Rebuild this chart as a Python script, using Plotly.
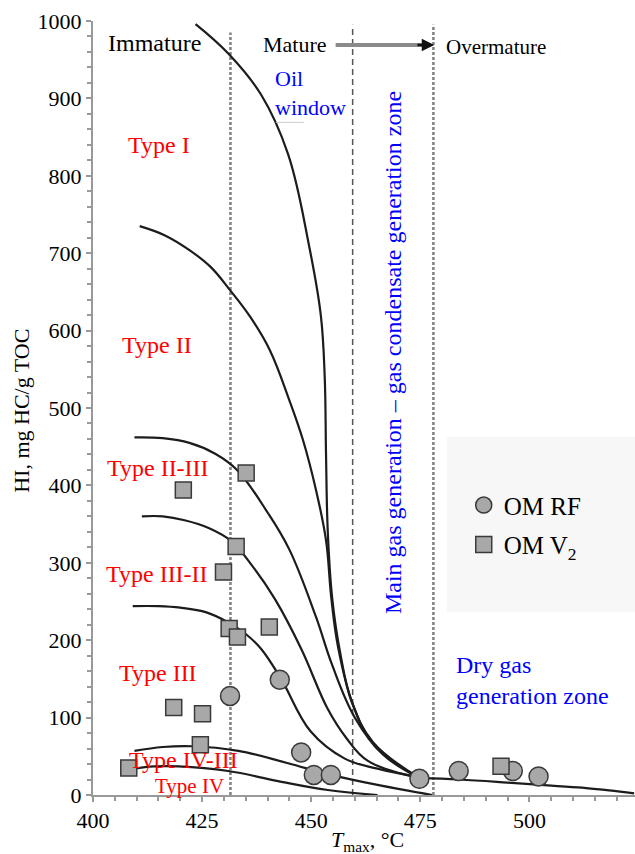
import plotly.graph_objects as go

# ---------------- data ----------------
type1_x = [423.5, 431.0, 438.5, 444.7, 449.5, 452.2, 453.1, 453.4, 453.8, 454.8, 456.6, 459.3, 464.2, 474.8]
type1_y = [996, 958, 905, 828, 710, 620, 540, 440, 340, 255, 185, 120, 68, 22]

type2_x = [410.7, 416.5, 422.1, 427.0, 431.3, 436.0, 440.5, 445.0, 448.1, 451.1, 453.4, 454.6, 456.2, 459.5, 464.5, 474.8]
type2_y = [735, 723, 704, 682, 653, 618, 575, 510, 459, 394, 329, 255, 190, 118, 64, 22]

type23_x = [409.5, 416.0, 422.1, 428.0, 433.0, 440.0, 445.0, 451.1, 454.8, 460.0, 466.5, 474.8]
type23_y = [462, 461, 455, 441, 420, 365, 317, 230, 168, 100, 52, 22]

type32_x = [411.2, 416.0, 421.0, 426.5, 431.7, 436.5, 441.7, 447.7, 453.8, 458.0, 463.0, 474.8]
type32_y = [360, 360, 355, 345, 328, 296, 253, 189, 111, 74, 44, 22]

type3_x = [409.1, 415.0, 420.0, 426.0, 431.0, 435.0, 438.5, 443.1, 449.9, 457.7, 465.2, 474.8]
type3_y = [244, 244, 242, 236, 223, 208, 189, 150, 82, 47, 34, 23]

tail_x = [474.8, 483.9, 495.0, 505.0, 513.0, 518.3, 524.0]
tail_y = [22, 20, 16, 12, 9, 6, 2]

type43_x = [409.5, 416.0, 422.6, 433.3, 444.7, 453.8, 465.2, 477.7]
type43_y = [57, 62, 63, 57, 41, 27, 13, 0]

type4_x = [409.3, 414.0, 419.6, 431.0, 442.4, 453.8, 465.2]
type4_y = [34, 37, 37, 31, 18, 6.5, 0]

rf_x = [431.4, 442.8, 447.7, 450.6, 454.5, 474.8, 483.8, 496.2, 502.1]
rf_y = [128, 149, 55, 26, 26, 21, 31, 31, 24]

v2_x = [408.2, 418.5, 425.1, 424.6, 435.1, 420.7, 432.8, 429.9, 431.2, 433.1, 440.4, 493.5]
v2_y = [35, 113, 105, 65, 416, 394, 321, 288, 215, 204, 217, 37]

zone_bounds = [431.5, 459.5, 478.0]

x_ticks = [400, 425, 450, 475, 500]
y_ticks = [0, 100, 200, 300, 400, 500, 600, 700, 800, 900, 1000]

# ---------------- figure ----------------
FONT = "Liberation Serif"
fig = go.Figure()

curve_style = dict(color="#1c1c1c", width=2.2, shape="spline", smoothing=1.1)
for cx, cy in [(type1_x, type1_y), (type2_x, type2_y), (type23_x, type23_y),
               (type32_x, type32_y), (type3_x, type3_y), (tail_x, tail_y),
               (type43_x, type43_y), (type4_x, type4_y)]:
    fig.add_trace(go.Scatter(x=cx, y=cy, mode="lines", line=curve_style,
                             showlegend=False, hoverinfo="skip"))

fig.add_trace(go.Scatter(x=rf_x, y=rf_y, mode="markers", name="OM RF",
                         legendgroup="a",
                         marker=dict(symbol="circle", size=19, color="#a8a8a8",
                                     line=dict(color="#3a3a3a", width=1.5))))
fig.add_trace(go.Scatter(x=v2_x, y=v2_y, mode="markers", name="OM V<sub>2</sub>",
                         legendgroup="b",
                         marker=dict(symbol="square", size=16, color="#a8a8a8",
                                     line=dict(color="#3a3a3a", width=1.5))))

shapes = []
# legend background
shapes.append(dict(type="rect", xref="paper", yref="y", x0=0.6527, x1=1.0,
                   y0=236, y1=463, fillcolor="#f7f7f7", line=dict(width=0),
                   layer="below"))
# zone boundaries
dash_styles = [("#858585", 2.6, "3px,2px"), ("#555555", 1.5, "6px,4px"), ("#858585", 2.6, "3px,2px")]
tops = [985, 995, 995]
for xb, (col, w, d), top in zip(zone_bounds, dash_styles, tops):
    shapes.append(dict(type="line", xref="x", yref="y", x0=xb, x1=xb, y0=0, y1=top,
                       line=dict(color=col, width=w, dash=d), layer="below"))
# arrow shaft
shapes.append(dict(type="line", xref="x", yref="y", x0=455.6, x1=476.5, y0=969, y1=969,
                   line=dict(color="#8a8a8a", width=4)))
# small artifact line under "window"
shapes.append(dict(type="line", xref="x", yref="y", x0=441.9, x1=448.3, y0=869, y1=869,
                   line=dict(color="#cccccc", width=1)))

ann = []
def txt(x, y, t, color="black", size=24, **kw):
    d = dict(x=x, y=y, xref="x", yref="y", text=t, showarrow=False,
             font=dict(family=FONT, size=size, color=color))
    d.update(kw)
    ann.append(d)

txt(414.0, 971, "Immature", size=24)
txt(446.3, 969, "Mature", size=22)
txt(492.3, 966, "Overmature", size=21)
txt(441.2, 907, "Oil<br>window", color="blue", size=22, xanchor="left", align="left")
red = "#ff0000"
txt(415.1, 840, "Type I", red)
txt(414.7, 582, "Type II", red)
txt(414.9, 423, "Type II-III", red)
txt(414.6, 285, "Type III-II", red)
txt(414.9, 158, "Type III", red)
txt(420.8, 45, "Type IV-III", red)
txt(422.0, 12, "Type IV", red, size=21)
txt(468.7, 572, "Main gas generation – gas condensate generation zone", color="blue",
    size=24, textangle=-90)
txt(482.8, 148, "Dry gas<br>generation zone", color="blue", size=24,
    xanchor="left", align="left")
# arrow head
ann.append(dict(x=478.2, y=969, ax=474.0, ay=969, xref="x", yref="y", axref="x", ayref="y",
                showarrow=True, arrowhead=2, arrowsize=1.0, arrowwidth=2.5,
                arrowcolor="#111111", text=""))
# axis titles
ann.append(dict(x=-0.132, y=0.497, xref="paper", yref="paper", text="HI, mg HC/g TOC",
                xanchor="center", yanchor="middle",
                textangle=-90, showarrow=False, font=dict(family=FONT, size=22, color="black")))
ann.append(dict(x=0.507, y=-0.060, xref="paper", yref="paper",
                xanchor="center", yanchor="middle",
                text="<i>T</i><sub>max</sub>, °C", showarrow=False,
                font=dict(family=FONT, size=22, color="black")))

axis_common = dict(showgrid=False, zeroline=False, showline=True, linecolor="#999999",
                   linewidth=2, ticks="outside", ticklen=5, tickcolor="#999999",
                   tickwidth=1.5, tickfont=dict(family=FONT, size=22, color="black"))

fig.update_layout(
    width=635, height=854,
    margin=dict(l=93, r=0, t=21, b=59),
    paper_bgcolor="white", plot_bgcolor="white",
    xaxis=dict(range=[400, 524.2], tickvals=x_ticks,
               minor=dict(dtick=5, ticks="outside", ticklen=4, tickcolor="#999999"),
               **axis_common),
    yaxis=dict(range=[0, 1000], tickvals=y_ticks,
               minor=dict(dtick=20, ticks="outside", ticklen=4, tickcolor="#999999"),
               **axis_common),
    shapes=shapes, annotations=ann,
    legend=dict(x=0.684, y=0.404, xanchor="left", yanchor="top",
                bgcolor="rgba(0,0,0,0)", font=dict(family=FONT, size=25, color="black"),
                traceorder="grouped", tracegroupgap=4),
    showlegend=True,
)

fig.write_html("out.html", config={"displayModeBar": False},
               post_script="document.body.style.margin='0px';document.body.style.overflow='hidden';")
